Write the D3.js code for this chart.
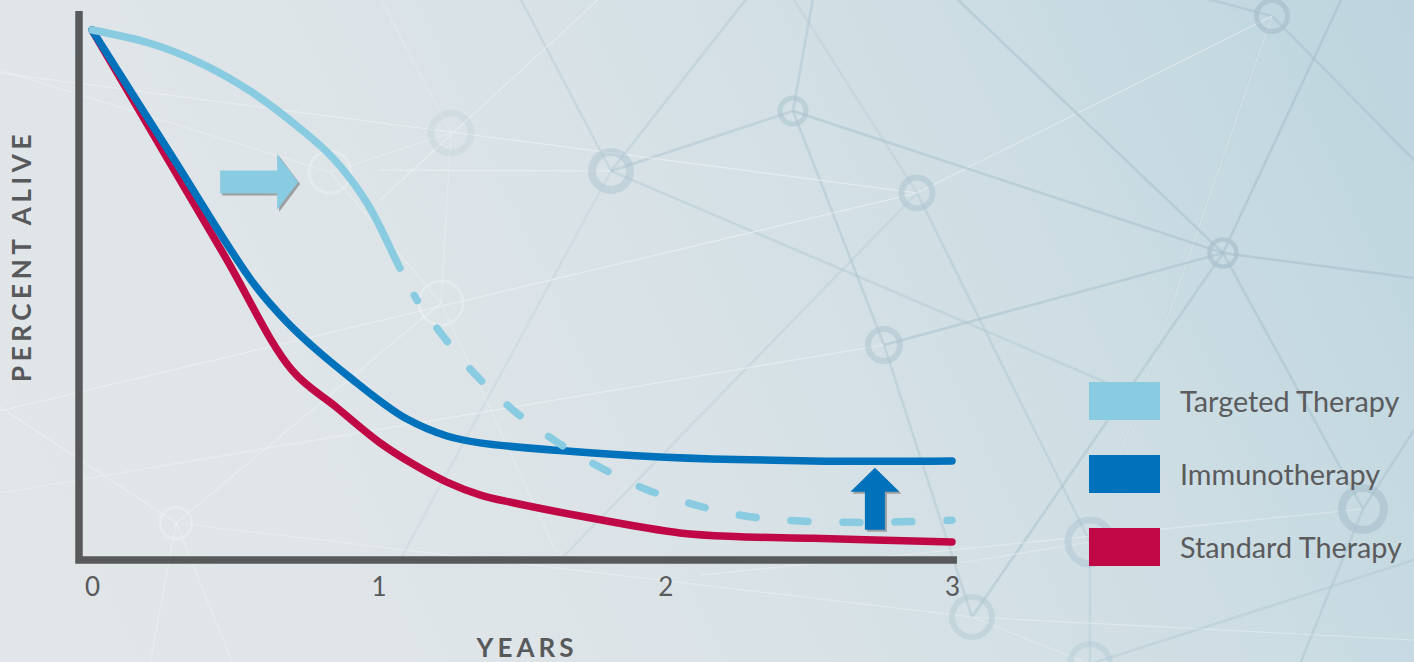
<!DOCTYPE html>
<html>
<head>
<meta charset="utf-8">
<script src="https://cdn.jsdelivr.net/npm/d3@7/dist/d3.min.js"></script>
<style>
  html, body { margin: 0; padding: 0; background: #e1e6e9; overflow: hidden; }
  svg { display: block; }
  text { font-family: Lato, "Open Sans", sans-serif; }
</style>
</head>
<body>
<svg id="chart" width="1414" height="662"></svg>
<script>
// ---------- data: survival (percent alive) by years since diagnosis ----------
const seriesNames = ["Targeted Therapy", "Immunotherapy", "Standard Therapy"];
const seriesColors = ["#89cbe0", "#0072bc", "#c10846"];

const targeted = [
  [0, 100], [0.202, 97.5], [0.377, 93.8], [0.551, 88.5], [0.726, 81.4],
  [0.841, 75.8], [0.959, 67.4], [1.074, 55.1], [1.130, 49.4], [1.221, 42.5],
  [1.339, 34.9], [1.469, 28.3], [1.615, 22.5], [1.772, 17.5], [1.929, 13.4],
  [2.103, 10.4], [2.278, 8.3], [2.456, 7.4], [2.637, 7.1], [2.819, 7.2], [3.0, 7.5]
];
const immuno = [
  [0, 100], [0.272, 76.8], [0.562, 52.3], [0.680, 44.9], [0.795, 39.1],
  [0.910, 34.0], [1.005, 30.0], [1.099, 26.6], [1.238, 23.4], [1.353, 22.1],
  [1.643, 20.6], [2.0, 19.4], [2.515, 18.7], [3.0, 18.7]
];
const standard = [
  [0, 100], [0.457, 57.9], [0.698, 35.8], [0.851, 28.9], [1.005, 22.1],
  [1.120, 18.1], [1.238, 14.7], [1.353, 12.3], [1.469, 10.8], [1.702, 8.3],
  [2.051, 5.1], [2.260, 4.4], [2.515, 4.1], [3.0, 3.4]
];
// targeted-therapy survival past this point is a projection
const projectionStart = 1.074;

const yearTicks = [0, 1, 2, 3];
const xLabel = "YEARS";
const yLabel = "PERCENT ALIVE";

// ---------- layout ----------
const W = 1414, H = 662;
const svg = d3.select("#chart");
const x = d3.scaleLinear().domain([0, 3]).range([92, 952]);
const y = d3.scaleLinear().domain([0, 100]).range([560, 30]);
const ink = "#58595b";

// ---------- backdrop: soft gradient with a faint network pattern ----------
const defs = svg.append("defs");
const grad = defs.append("linearGradient").attr("id", "bg")
  .attr("gradientUnits", "userSpaceOnUse")
  .attr("x1", 0).attr("y1", H).attr("x2", W).attr("y2", 0);
[[0, "#e2e6e9"], [0.35, "#dde4e8"], [0.7, "#cfdee4"], [1, "#bcd5de"]]
  .forEach(([o, c]) => grad.append("stop").attr("offset", o).attr("stop-color", c));
svg.append("rect").attr("width", W).attr("height", H).attr("fill", "url(#bg)");

// [x, y, radius, ring width, opacity, tone]
const netNodes = {
  A: [1272, 16, 15.5, 5, 0.75, "d"], B: [1223, 253, 13.5, 4.5, 0.75, "d"], C: [793, 111, 13, 5, 0.55, "d"],
  D: [611, 171, 19, 8, 0.45, "d"], E: [917, 193, 15.5, 6, 0.55, "d"], F: [451, 133, 20, 7, 0.2, "d"],
  G: [330, 172, 21, 3, 0.35, "w"], H: [441, 303, 22, 3, 0.35, "w"], I: [884, 345, 16, 6, 0.5, "d"],
  J: [1363, 509, 21, 8, 0.65, "d"], K: [1090, 542, 22, 7, 0.45, "d"], L: [176, 523, 16, 3, 0.35, "w"],
  M: [972, 617, 20, 6, 0.4, "d"], N: [1090, 664, 20, 6, 0.35, "d"]
};
const pt = p => typeof p === "string" ? netNodes[p].slice(0, 2) : p;
// [from, to, tone, opacity]  tone: "d" = tinted line, "w" = pale line
const netEdges = [
  ["A", [1193, -5], "d", 0.55], ["A", [1414, 160], "d", 0.5], ["A", "K", "w", 0.55], ["A", "K", "d", 0.15],
  ["A", "E", "w", 0.5], ["B", "C", "d", 0.55], ["B", [955, -3], "d", 0.55], ["B", [1414, 278], "d", 0.6],
  ["B", "I", "d", 0.55], ["B", "M", "d", 0.5], ["B", "J", "d", 0.55], ["B", [1342, -2], "d", 0.6],
  ["C", [813, -2], "d", 0.45], ["C", "D", "d", 0.45], ["C", "I", "d", 0.45], ["D", [520, -2], "d", 0.3],
  ["D", [747, -2], "d", 0.35], ["D", [1110, 384], "d", 0.35], ["D", [400, 560], "d", 0.2],
  ["D", [380, 170], "w", 0.6], ["E", [793, -2], "d", 0.25], ["E", [560, 560], "d", 0.25],
  ["E", "K", "d", 0.4], ["E", [0, 411], "w", 0.6], ["E", [0, 73], "w", 0.6], [[600, -2], [380, 200], "w", 0.5],
  ["I", "M", "d", 0.4], ["I", [0, 493], "w", 0.55], ["L", "H", "w", 0.5], ["L", [0, 407], "w", 0.5],
  ["L", [150, 664], "w", 0.5], ["L", [233, 664], "w", 0.5], ["L", "M", "w", 0.45],
  ["J", [1414, 430], "d", 0.5], ["J", [700, 575], "w", 0.45], ["J", [1300, 664], "d", 0.45],
  ["K", [960, 563], "w", 0.4], ["K", "N", "d", 0.3], ["M", "N", "w", 0.4], ["M", [1414, 640], "w", 0.4],
  ["G", [0, 70], "w", 0.45], ["G", "F", "w", 0.45], ["G", "H", "w", 0.4], ["H", "F", "w", 0.35],
  ["H", [560, 560], "w", 0.35], ["F", [380, -2], "w", 0.35], ["N", [1414, 560], "d", 0.35]
];
const tone = t => t === "d" ? "#a9c2ce" : "#f2f5f7";
const net = svg.append("g");
net.selectAll("line").data(netEdges).join("line")
  .attr("x1", d => pt(d[0])[0]).attr("y1", d => pt(d[0])[1])
  .attr("x2", d => pt(d[1])[0]).attr("y2", d => pt(d[1])[1])
  .attr("stroke", d => tone(d[2]))
  .attr("stroke-width", d => d[2] === "d" ? 2.5 : 1.2)
  .attr("opacity", d => d[3]);
net.selectAll("circle").data(Object.values(netNodes)).join("circle")
  .attr("cx", d => d[0]).attr("cy", d => d[1]).attr("r", d => d[2])
  .attr("fill", "none").attr("stroke", d => tone(d[5]))
  .attr("stroke-width", d => d[3]).attr("opacity", d => d[4]);

// ---------- axes ----------
const g = svg.append("g");
g.append("path")
  .attr("d", `M${x(0) - 13},11 V${y(0)} H${x(3) + 5}`)
  .attr("fill", "none").attr("stroke", ink).attr("stroke-width", 7.5)
  .attr("stroke-linejoin", "miter");

const xAxis = g.append("g").attr("transform", `translate(0,${y(0)})`)
  .call(d3.axisBottom(x).tickValues(yearTicks).tickSize(0).tickPadding(18).tickFormat(d3.format("d")));
xAxis.select(".domain").remove();
xAxis.selectAll("text").attr("font-size", 26).attr("fill", ink)
  .style("font-family", "Lato, 'Open Sans', sans-serif");

g.append("text").attr("x", 527).attr("y", 657).attr("text-anchor", "middle")
  .attr("font-size", 26).attr("font-weight", 700).attr("letter-spacing", 4)
  .attr("fill", ink).text(xLabel);
g.append("text").attr("transform", "translate(31,256) rotate(-90)")
  .attr("text-anchor", "middle")
  .attr("font-size", 26).attr("font-weight", 700).attr("letter-spacing", 4.6)
  .attr("fill", ink).text(yLabel);

// ---------- survival curves ----------
const line = d3.line().x(d => x(d[0])).y(d => y(d[1])).curve(d3.curveCatmullRom.alpha(0.5));
const curveStyle = sel => sel.attr("fill", "none").attr("stroke-width", 7.5)
  .attr("stroke-linecap", "round").attr("stroke-linejoin", "round");

g.append("path").datum(standard).attr("d", line).attr("stroke", seriesColors[2]).call(curveStyle);
g.append("path").datum(immuno).attr("d", line).attr("stroke", seriesColors[1]).call(curveStyle);
const tPath = g.append("path").datum(targeted).attr("d", line)
  .attr("stroke", seriesColors[0]).call(curveStyle);

// solid up to the projection start, dashed afterwards
const tNode = tPath.node();
const total = tNode.getTotalLength();
let lo = 0, hi = total;
for (let i = 0; i < 40; i++) {
  const mid = (lo + hi) / 2;
  if (tNode.getPointAtLength(mid).x < x(projectionStart)) lo = mid; else hi = mid;
}
const dashes = [lo, 31, 6, 34];
let run = lo + 71;
while (run < total + 60) { dashes.push(17, 35); run += 52; }
tPath.attr("stroke-dasharray", dashes.join(" "));

// ---------- annotation arrows ----------
function arrowRight(x0, x1, cy, shaftH, headH, headL) {
  const xs = x1 - headL;
  return `M${x0},${cy - shaftH / 2} H${xs} V${cy - headH / 2} L${x1},${cy} L${xs},${cy + headH / 2} V${cy + shaftH / 2} H${x0} Z`;
}
function arrowUp(cx, y0, y1, shaftW, headW, headL) {
  const ys = y1 + headL;
  return `M${cx - shaftW / 2},${y0} V${ys} H${cx - headW / 2} L${cx},${y1} L${cx + headW / 2},${ys} H${cx + shaftW / 2} V${y0} Z`;
}
const arrows = [
  { d: arrowRight(x(0.447), x(0.719), y(71.3), 23, 56, 21), color: seriesColors[0] },
  { d: arrowUp(x(2.731), y(5.7), y(17.4), 20, 49, 24), color: seriesColors[1] }
];
arrows.forEach(a => {
  g.append("path").attr("d", a.d).attr("fill", "#9c9ea0").attr("transform", "translate(2,2)");
  g.append("path").attr("d", a.d).attr("fill", a.color);
});

// ---------- legend ----------
const legend = svg.append("g").attr("transform", "translate(1089,382)");
const items = legend.selectAll("g").data(seriesNames).join("g")
  .attr("transform", (d, i) => `translate(0,${i * 73})`);
items.append("rect").attr("width", 71).attr("height", 38)
  .attr("fill", (d, i) => seriesColors[i]);
items.append("text").attr("x", 91).attr("y", 29.5)
  .attr("font-size", 28.8).attr("fill", "#5b5b5d").text(d => d);
</script>
</body>
</html>
